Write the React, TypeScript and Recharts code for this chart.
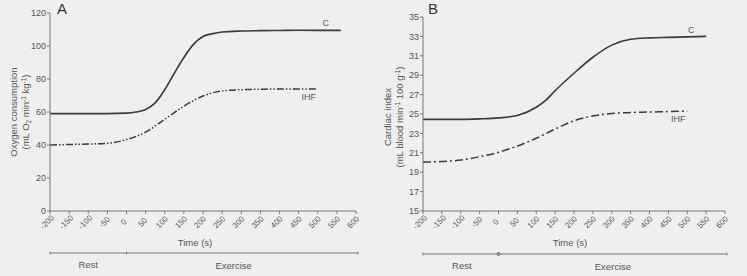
import { LineChart, Line, XAxis, YAxis, LabelList } from 'recharts'

// Panel A: oxygen consumption
const timeAC = [-200, -150, -100, -50, 0, 25, 50, 75, 100, 125, 150, 175, 200, 225, 250, 300, 350, 400, 450, 500, 560]
const oxyC = [59, 59, 59, 59, 59.3, 60, 61.5, 65.5, 73.5, 83.5, 93, 101, 105.8, 107.5, 108.5, 109.1, 109.3, 109.4, 109.5, 109.5, 109.5]
const timeAIHF = [-200, -150, -100, -50, 0, 50, 100, 150, 200, 250, 300, 350, 400, 450, 500]
const oxyIHF = [40, 40.3, 40.6, 41, 43.3, 47.8, 55.6, 63.5, 69.7, 72.8, 73.5, 73.8, 74, 74, 74]

// Panel B: cardiac index
const timeBC = [-200, -150, -100, -50, 0, 50, 100, 125, 150, 200, 250, 300, 350, 400, 450, 500, 550]
const ciC = [24.45, 24.45, 24.45, 24.5, 24.6, 24.85, 25.7, 26.4, 27.4, 29.2, 30.85, 32.1, 32.7, 32.85, 32.9, 32.95, 33]
const timeBIHF = [-200, -150, -100, -50, 0, 50, 100, 150, 200, 250, 300, 350, 400, 450, 500]
const ciIHF = [20.05, 20.1, 20.25, 20.6, 21.05, 21.7, 22.5, 23.45, 24.3, 24.8, 25.05, 25.15, 25.2, 25.25, 25.3]

const timeTicks = [-200, -150, -100, -50, 0, 50, 100, 150, 200, 250, 300, 350, 400, 450, 500, 550, 600]
const oxyTicks = [0, 20, 40, 60, 80, 100, 120]
const ciTicks = [15, 17, 19, 21, 23, 25, 27, 29, 31, 33, 35]

const FONT = '"Liberation Sans", Arial, Helvetica, sans-serif'
const INK = '#3a3a3a'
const AXIS = '#777'
const TEXT = '#555'
const BG = '#efefef'

const zip = (xs: number[], ys: number[]) => xs.map((t, i) => ({ t, v: ys[i] }))

// plot rectangles (page pixels)
const A = { left: 50, right: 356, top: 13, bottom: 211 }
const B = { left: 423, right: 725, top: 17, bottom: 211 }
const toX = (p: typeof A, t: number) => p.left + ((t + 200) / 800) * (p.right - p.left)

const TimeTick = ({ x, y, payload }: any) => (
  <g transform={`translate(${x - 3},${y + 6}) rotate(-45)`}>
    <text x={0} y={0} dy="0.35em" textAnchor="middle" fontSize={8} fill={TEXT} fontFamily={FONT}>
      {payload.value}
    </text>
  </g>
)

const endLabel = (text: string, dx: number, dy: number, last: number) => (props: any) => {
  if (props.index !== last) return null
  return (
    <text x={props.x + dx} y={props.y + dy} dy="0.35em" textAnchor="middle" fontSize={9} fill={TEXT} fontFamily={FONT}>
      {text}
    </text>
  )
}

function Panel({
  left, width, plot, yDomain, yTicks, c, ihf, ihfDash,
}: {
  left: number
  width: number
  plot: typeof A
  yDomain: [number, number]
  yTicks: number[]
  c: { t: number; v: number }[]
  ihf: { t: number; v: number }[]
  ihfDash: string
}) {
  const yAxisW = plot.left - left
  return (
    <div style={{ position: 'absolute', left, top: 0 }}>
      <LineChart
        width={width}
        height={276}
        margin={{ top: plot.top, left: 0, right: left + width - plot.right, bottom: 276 - plot.bottom - 30 }}
      >
        <XAxis
          type="number"
          dataKey="t"
          domain={[-200, 600]}
          ticks={timeTicks}
          interval={0}
          height={30}
          stroke={AXIS}
          tickSize={3}
          tick={<TimeTick />}
          allowDataOverflow
        />
        <YAxis
          type="number"
          dataKey="v"
          domain={yDomain}
          ticks={yTicks}
          interval={0}
          width={yAxisW}
          stroke={AXIS}
          tickSize={3}
          tickMargin={1}
          tick={{ fontSize: 9, fill: TEXT, fontFamily: FONT }}
        />
        <Line
          data={c}
          dataKey="v"
          type="monotone"
          stroke={INK}
          strokeWidth={1.6}
          dot={false}
          isAnimationActive={false}
        >
          <LabelList content={endLabel('C', -15, -7, c.length - 1)} />
        </Line>
        <Line
          data={ihf}
          dataKey="v"
          type="monotone"
          stroke={INK}
          strokeWidth={1.5}
          strokeDasharray={ihfDash}
          dot={false}
          isAnimationActive={false}
        >
          <LabelList content={endLabel('IHF', -9, 8, ihf.length - 1)} />
        </Line>
      </LineChart>
    </div>
  )
}

function Phases({ plot, restAt, exAt, y, dot }: { plot: typeof A; restAt: number; exAt: number; y: number; dot?: boolean }) {
  const x0 = toX(plot, -200)
  const x1 = toX(plot, 605)
  const xm = toX(plot, 0)
  return (
    <g stroke={AXIS} strokeWidth={1}>
      <line x1={x0} x2={x1} y1={y} y2={y} />
      <line x1={x0} x2={x0} y1={y - 1.5} y2={y + 1.5} />
      <line x1={x1} x2={x1} y1={y - 1.5} y2={y + 1.5} />
      <line x1={xm} x2={xm} y1={y - 1.5} y2={y + 1.5} />
      {dot && <circle cx={xm} cy={y} r={1.5} fill="#999" />}
      <text x={toX(plot, restAt)} y={y + 15} textAnchor="middle" fontSize={9.5} fill={TEXT} stroke="none" fontFamily={FONT}>
        Rest
      </text>
      <text x={toX(plot, exAt)} y={y + 16} textAnchor="middle" fontSize={9.5} fill={TEXT} stroke="none" fontFamily={FONT}>
        Exercise
      </text>
    </g>
  )
}

export default function App() {
  return (
    <div style={{ position: 'absolute', left: 0, top: 0, width: 747, height: 276, background: BG, fontFamily: FONT }}>
      <Panel left={0} width={370} plot={A} yDomain={[0, 120]} yTicks={oxyTicks} c={zip(timeAC, oxyC)} ihf={zip(timeAIHF, oxyIHF)} ihfDash="7 2 1.5 2 1.5 2" />
      <Panel left={370} width={377} plot={B} yDomain={[15, 35]} yTicks={ciTicks} c={zip(timeBC, ciC)} ihf={zip(timeBIHF, ciIHF)} ihfDash="8 3 2 3" />
      <svg width={747} height={276} style={{ position: 'absolute', left: 0, top: 0, pointerEvents: 'none' }}>
        <text x={57} y={14} fontSize={15} fill="#333" fontFamily={FONT}>A</text>
        <text x={428} y={14} fontSize={15} fill="#333" fontFamily={FONT}>B</text>

        <g fontSize={9.5} fill={TEXT} fontFamily={FONT} textAnchor="middle">
          <text transform="translate(14,112) rotate(-90)" dy="0.35em">Oxygen consumption</text>
          <text transform="translate(26,112) rotate(-90)" dy="0.35em">
            (mL O<tspan dy={2} fontSize={6.5}>2</tspan>
            <tspan dy={-2}> min</tspan>
            <tspan dy={-3} fontSize={6.5}>-1</tspan>
            <tspan dy={3}> kg</tspan>
            <tspan dy={-3} fontSize={6.5}>-1</tspan>
            <tspan dy={3}>)</tspan>
          </text>
          <text transform="translate(388,117) rotate(-90)" dy="0.35em">Cardiac index</text>
          <text transform="translate(400,117) rotate(-90)" dy="0.35em">
            (mL blood min<tspan dy={-3} fontSize={6.5}>-1</tspan>
            <tspan dy={3}> 100 g</tspan>
            <tspan dy={-3} fontSize={6.5}>-1</tspan>
            <tspan dy={3}>)</tspan>
          </text>
          <text x={(A.left + A.right) / 2 - 8} y={243} dy="0.35em">Time (s)</text>
          <text x={(B.left + B.right) / 2 - 4} y={243} dy="0.35em">Time (s)</text>
        </g>

        <Phases plot={A} restAt={-100} exAt={280} y={253} />
        <Phases plot={B} restAt={-97} exAt={303} y={254} dot />
      </svg>
    </div>
  )
}
